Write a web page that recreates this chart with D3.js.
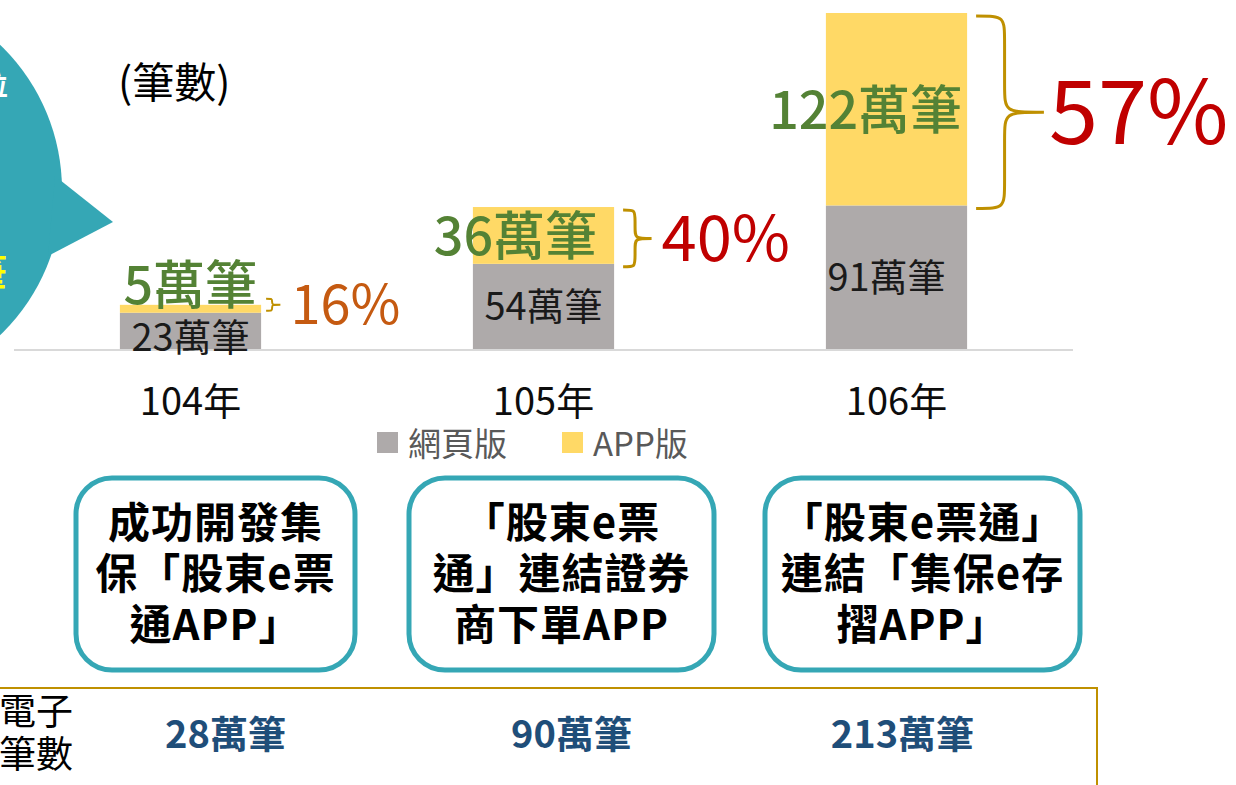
<!DOCTYPE html>
<html>
<head>
<meta charset="utf-8">
<title>股東e票通 筆數</title>
<script src="https://d3js.org/d3.v7.min.js"></script>
<style>
  body { margin: 0; background: #fff; }
  svg { display: block; font-family: "Noto Sans CJK TC", "Noto Sans", sans-serif; }
</style>
</head>
<body>
<script>
// data
const years = ["104年", "105年", "106年"];
const webCounts = [23, 54, 91];
const appCounts = [5, 36, 122];
const appShare = ["16%", "40%", "57%"];
const totalCounts = [28, 90, 213];
const legendLabels = ["網頁版", "APP版"];
const boxLines = [
  ["成功開發集", "保「股東e票", "通APP」"],
  ["「股東e票", "通」連結證券", "商下單APP"],
  ["「股東e票通」", "連結「集保e存", "摺APP」"]
];
const rowLabel = ["電子", "筆數"];

// sizes
const width = 1236, height = 785;
const baseY = 349;
const grayColor = "#AEAAAA", yellowColor = "#FFD966";
const greenColor = "#548235", braceColor = "#BF9000", teal = "#35A7B5";

const svg = d3.select("body").append("svg")
  .attr("width", width).attr("height", height);

// speech bubble cut at left edge
const bubble = svg.append("g");
bubble.append("circle").attr("cx", -139).attr("cy", 190).attr("r", 201).attr("fill", teal);
bubble.append("path").attr("d", "M55,176 L113,222 L48,256 Z").attr("fill", teal);
bubble.append("text").attr("x", 8).attr("y", 95).attr("text-anchor", "end")
  .attr("font-size", 26).attr("fill", "#fff").attr("font-weight", "bold").text("位");
bubble.append("text").attr("x", 7).attr("y", 288).attr("text-anchor", "end")
  .attr("font-size", 40).attr("fill", "#FFFF00").attr("font-weight", "bold").text("筆");

// unit label
svg.append("text").attr("x", 118).attr("y", 98)
  .attr("font-size", 42).attr("fill", "#000").text("(筆數)");

// scales
const x = d3.scaleBand().domain(years).range([14, 1073]).paddingInner(0.6).paddingOuter(0.3);
const y = d3.scaleLinear().domain([0, d3.max(totalCounts)]).range([baseY, 13]);

const table = years.map((yr, i) => ({ year: yr, web: webCounts[i], app: appCounts[i] }));
const series = d3.stack().keys(["web", "app"])(table);
const colors = { web: grayColor, app: yellowColor };

// axis line
svg.append("line").attr("x1", 14).attr("x2", 1073).attr("y1", baseY + 1).attr("y2", baseY + 1)
  .attr("stroke", "#D9D9D9").attr("stroke-width", 2);

// bars
svg.append("g").selectAll("g").data(series).join("g")
  .attr("fill", d => colors[d.key])
  .selectAll("rect").data(d => d).join("rect")
    .attr("x", d => x(d.data.year))
    .attr("y", d => y(d[1]))
    .attr("width", x.bandwidth())
    .attr("height", d => y(d[0]) - y(d[1]));

// web labels (inside gray segment)
svg.append("g").selectAll("text").data(series[0]).join("text")
  .attr("x", (d, i) => x(d.data.year) + x.bandwidth() / 2 - (i === 2 ? 10 : 0))
  .attr("y", d => (y(d[0]) + y(d[1])) / 2 + (y(d[0]) - y(d[1]) < 40 ? 6 : 0))
  .attr("dy", "0.36em")
  .attr("text-anchor", "middle")
  .attr("font-size", 38).attr("fill", "#1a1a1a")
  .text(d => d.data.web + "萬筆");

// app labels (green)
const labelOffset = [4, 17, 5];
svg.append("g").selectAll("text").data(series[1]).join("text")
  .attr("x", (d, i) => x(d.data.year) + x.bandwidth() - labelOffset[i])
  .attr("y", d => {
    const h = y(d[0]) - y(d[1]);
    return h > 50 ? (y(d[0]) + y(d[1])) / 2 + 0.38 * 52 : y(d[1]) - 1;
  })
  .attr("text-anchor", "end")
  .attr("font-size", 52).attr("font-weight", 500).attr("fill", greenColor)
  .text(d => d.data.app + "萬筆");

// braces + percentages
const fontScale = d3.scaleLinear().domain([7, 190]).range([54, 88]);
function bracePath(x0, y0, y1, w) {
  const ym = (y0 + y1) / 2;
  const xm = x0 + w * 0.42;
  const r = Math.min(w * 0.42, (y1 - y0) / 4);
  return `M${x0},${y0} C${xm},${y0} ${xm},${y0} ${xm},${y0 + r}` +
    ` L${xm},${ym - r} C${xm},${ym} ${xm},${ym} ${x0 + w},${ym}` +
    ` C${xm},${ym} ${xm},${ym} ${xm},${ym + r}` +
    ` L${xm},${y1 - r} C${xm},${y1} ${xm},${y1} ${x0},${y1}`;
}
series[1].forEach((d, i) => {
  const top = y(d[1]), bot = y(d[0]);
  const h = bot - top;
  const bx = x(d.data.year) + x.bandwidth() + (i === 0 ? 5 : 9);
  const y0 = i === 0 ? top - 6 : top + 3;
  const y1 = i === 0 ? bot - 2 : bot + 3;
  const w = 12 + h * 0.29;
  svg.append("path").attr("d", bracePath(bx, y0, y1, w))
    .attr("fill", "none").attr("stroke", braceColor).attr("stroke-width", i === 0 ? 2 : 3);
  const fs = fontScale(h);
  svg.append("text")
    .attr("x", bx + w + (i === 2 ? 5 : 10))
    .attr("y", (y0 + y1) / 2 + 0.36 * fs)
    .attr("font-size", fs)
    .attr("fill", i === 0 ? "#C55A11" : "#C00000")
    .text(appShare[i]);
});

// year labels
svg.append("g").selectAll("text").data(years).join("text")
  .attr("x", d => x(d) + x.bandwidth() / 2)
  .attr("y", 415)
  .attr("text-anchor", "middle")
  .attr("font-size", 38).attr("fill", "#0d0d0d")
  .text(d => d);

// legend
const legend = svg.append("g").attr("transform", "translate(377,432)");
const legendX = [0, 185];
legendLabels.forEach((lab, i) => {
  legend.append("rect").attr("x", legendX[i]).attr("y", 0).attr("width", 21).attr("height", 21)
    .attr("fill", i === 0 ? grayColor : yellowColor);
  legend.append("text").attr("x", legendX[i] + 31).attr("y", 24)
    .attr("font-size", 33).attr("fill", "#595959").text(lab);
});

// rounded boxes
const boxes = [[76, 355], [409, 714], [765, 1080]];
boxes.forEach((b, i) => {
  svg.append("rect").attr("x", b[0]).attr("y", 478).attr("width", b[1] - b[0]).attr("height", 192)
    .attr("rx", 36).attr("fill", "#fff").attr("stroke", teal).attr("stroke-width", 5);
  const cx = (b[0] + b[1]) / 2;
  boxLines[i].forEach((line, j) => {
    svg.append("text").attr("x", cx).attr("y", 538 + j * 51)
      .attr("text-anchor", "middle").attr("font-size", 42).attr("font-weight", "bold")
      .attr("letter-spacing", 1)
      .attr("fill", "#000").text(line);
  });
});

// bottom table
svg.append("path").attr("d", "M0,688 H1097 V785")
  .attr("fill", "none").attr("stroke", braceColor).attr("stroke-width", 2);
rowLabel.forEach((t, i) => {
  svg.append("text").attr("x", -1).attr("y", 725 + i * 43)
    .attr("font-size", 37).attr("fill", "#000").text(t);
});
svg.append("g").selectAll("text").data(totalCounts).join("text")
  .attr("x", (d, i) => (boxes[i][0] + boxes[i][1]) / 2 + [10, 10, -20][i])
  .attr("y", 748)
  .attr("text-anchor", "middle")
  .attr("font-size", 38).attr("font-weight", "bold").attr("fill", "#1F4E79")
  .text(d => d + "萬筆");
</script>
</body>
</html>
